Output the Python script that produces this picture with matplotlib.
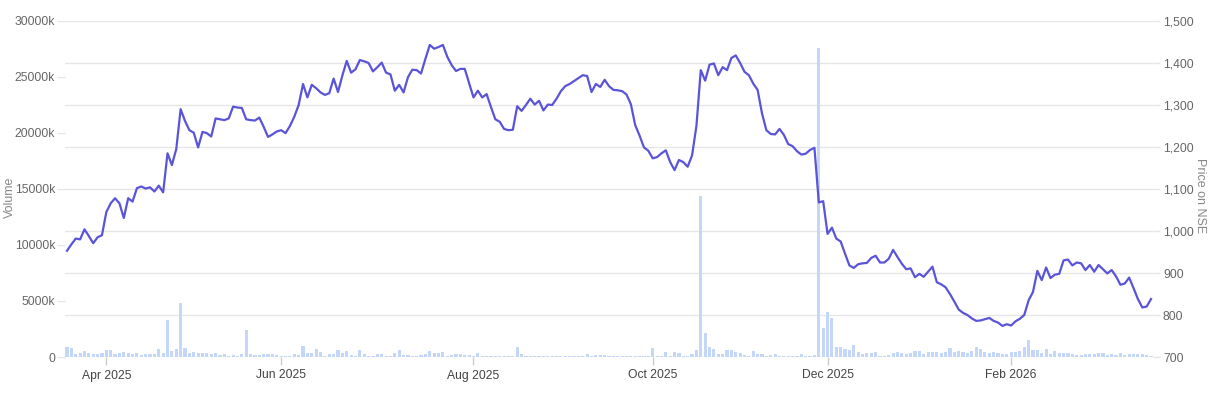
import numpy as np
import pandas as pd
import matplotlib
matplotlib.use("Agg")
import matplotlib.pyplot as plt
from matplotlib.ticker import FuncFormatter

# trading calendar (NSE), one bar / point per session
start_date = "2025-03-18"
n_days = 249
holidays = ["2025-03-31", "2025-04-10", "2025-04-14", "2025-04-18", "2025-05-01",
            "2025-08-15", "2025-08-27", "2025-10-02", "2025-10-22", "2025-11-05",
            "2025-12-25", "2026-01-15", "2026-01-26", "2026-03-03"]

# closing price on NSE
price = [
    953, 968, 982, 980, 1004, 988, 971, 985, 990, 1045,
    1066, 1078, 1066, 1031, 1078, 1070, 1102, 1106, 1101, 1104,
    1094, 1108, 1092, 1185, 1157, 1195, 1290, 1262, 1240, 1234,
    1199, 1236, 1233, 1225, 1268, 1266, 1264, 1268, 1296, 1294,
    1293, 1266, 1264, 1263, 1270, 1248, 1224, 1230, 1237, 1240,
    1233, 1250, 1272, 1300, 1350, 1318, 1348, 1340, 1330, 1324,
    1328, 1363, 1331, 1370, 1405, 1377, 1385, 1407, 1404, 1400,
    1380, 1390, 1401, 1377, 1373, 1334, 1348, 1330, 1366, 1384,
    1383, 1375, 1410, 1443, 1434, 1438, 1443, 1415, 1395, 1381,
    1386, 1386, 1352, 1318, 1334, 1318, 1326, 1295, 1266, 1260,
    1243, 1240, 1241, 1297, 1286, 1300, 1315, 1301, 1310, 1287,
    1301, 1300, 1315, 1333, 1345, 1350, 1357, 1364, 1371, 1369,
    1331, 1350, 1343, 1360, 1345, 1336, 1335, 1333, 1325, 1302,
    1252, 1227, 1199, 1191, 1173, 1176, 1185, 1192, 1164, 1145,
    1169, 1164, 1153, 1180, 1250, 1383, 1358, 1396, 1399, 1371,
    1390, 1383, 1412, 1418, 1400, 1379, 1371, 1351, 1336, 1280,
    1240, 1231, 1230, 1243, 1229, 1207, 1202, 1190, 1182, 1184,
    1193, 1198, 1068, 1071, 993, 1008, 982, 975, 946, 918,
    912, 921, 923, 924, 936, 941, 925, 925, 934, 955,
    938, 922, 909, 911, 890, 898, 891, 903, 915, 878,
    873, 866, 850, 832, 813, 805, 800, 792, 786, 787,
    790, 793, 786, 782, 774, 778, 775, 785, 791, 800,
    835, 855, 905, 883, 913, 888, 896, 898, 930, 932,
    918, 925, 923, 907, 919, 903, 919, 909, 899, 907,
    892, 872, 875, 889, 864, 838, 818, 820, 838,
]

# traded volume, thousands of shares
volume_k = [
    860, 775, 270, 330, 500, 330, 270, 270, 390, 620,
    620, 270, 390, 470, 330, 240, 330, 180, 300, 240,
    240, 680, 330, 3300, 560, 740, 4780, 830, 330, 420,
    390, 360, 330, 270, 330, 180, 240, 120, 180, 120,
    240, 2410, 300, 210, 150, 270, 240, 240, 150, 60,
    60, 90, 240, 150, 1000, 330, 330, 680, 420, 120,
    270, 270, 620, 330, 500, 150, 120, 620, 270, 120,
    90, 270, 240, 60, 60, 330, 620, 150, 150, 120,
    90, 150, 270, 560, 330, 390, 470, 90, 180, 240,
    240, 150, 150, 60, 330, 60, 60, 60, 90, 60,
    60, 60, 120, 890, 240, 90, 90, 60, 60, 120,
    60, 60, 60, 120, 90, 120, 90, 60, 60, 240,
    90, 210, 210, 150, 120, 90, 90, 120, 60, 120,
    90, 60, 60, 60, 770, 120, 60, 420, 120, 420,
    330, 90, 120, 240, 620, 14380, 2120, 860, 720, 270,
    270, 590, 590, 470, 390, 180, 120, 500, 270, 270,
    120, 150, 270, 120, 120, 60, 120, 60, 240, 120,
    90, 180, 27600, 2620, 4020, 3450, 860, 860, 680, 620,
    1100, 420, 240, 360, 390, 450, 120, 120, 180, 330,
    420, 330, 240, 330, 560, 530, 270, 470, 470, 450,
    390, 450, 770, 470, 530, 450, 360, 530, 890, 680,
    420, 330, 470, 390, 240, 270, 470, 470, 530, 860,
    1520, 620, 620, 330, 740, 240, 530, 330, 390, 330,
    240, 180, 180, 240, 240, 270, 390, 330, 150, 240,
    180, 390, 180, 270, 300, 300, 240, 180, 120,
]

vol_ticks = [0, 5000, 10000, 15000, 20000, 25000, 30000]
price_ticks = [700, 800, 900, 1000, 1100, 1200, 1300, 1400, 1500]
month_ticks = ["2025-04", "2025-06", "2025-08", "2025-10", "2025-12", "2026-02"]

days = pd.bdate_range(start_date, periods=n_days + 40)
days = days[~days.isin(pd.to_datetime(holidays))][:n_days]
idx = np.arange(n_days)

# first session of each labelled month
tick_pos, tick_lab = [], []
for m in month_ticks:
    first = np.where(days.strftime("%Y-%m") == m)[0][0]
    tick_pos.append(first)
    tick_lab.append(days[first].strftime("%b %Y"))

plt.rcParams["font.family"] = ["Liberation Sans", "DejaVu Sans"]

fig = plt.figure(figsize=(12.12, 3.93), dpi=100)
W, H = 1212, 393
left, right, top, bottom = 64.8, 1153.2, 21, 357
rect = [left / W, 1 - bottom / H, (right - left) / W, (bottom - top) / H]

grid_c = "#e6e6e6"
text_c = "#666666"

# base axes: grid + price scale (right), x ticks
ax = fig.add_axes(rect)
axv = ax.twinx()   # volume bars, left scale
axl = ax.twinx()   # price line, drawn on top

ax.set_xlim(-0.5, n_days - 0.5)
ax.set_ylim(700, 1500)
ax.set_yticks(price_ticks)
ax.yaxis.set_major_formatter(FuncFormatter(lambda v, p: f"{int(v):,}"))
ax.grid(axis="y", color=grid_c, linewidth=1)
ax.set_xticks(tick_pos)
ax.set_xticklabels(tick_lab)
ax.tick_params(axis="x", length=6, width=1, color="#cccccc", pad=3,
               labelsize=8.7, labelcolor="#444444")

axv.bar(idx, volume_k, width=0.72, color="#c4d7f8", linewidth=0)
axv.set_xlim(-0.5, n_days - 0.5)
axv.set_ylim(0, 30000)
axv.set_yticks(vol_ticks)
axv.yaxis.set_major_formatter(FuncFormatter(lambda v, p: "0" if v == 0 else f"{int(v)}k"))

axl.plot(idx, price, color="#5a54d8", linewidth=1.6, solid_joinstyle="round")
axl.set_xlim(-0.5, n_days - 0.5)
axl.set_ylim(700, 1500)
axl.set_yticks([])

# twinx moves the base ticks to the left, so set sides afterwards
ax.yaxis.tick_right()
ax.yaxis.set_label_position("right")
ax.tick_params(axis="y", length=5, width=1, color=grid_c, pad=2,
               labelsize=8.7, labelcolor=text_c)
ax.set_ylabel("Price on NSE", rotation=-90, color="#888888", fontsize=9,
              va="center", ha="center")
ax.yaxis.set_label_coords(1.0426, 0.48)

axv.yaxis.tick_left()
axv.yaxis.set_label_position("left")
axv.tick_params(axis="y", length=6, width=1, color=grid_c, pad=1,
                labelsize=8.7, labelcolor=text_c)
axv.set_ylabel("Volume", color="#888888", fontsize=9, va="center", ha="center")
axv.yaxis.set_label_coords(-0.0503, 0.475)

for a in (ax, axv, axl):
    for s in a.spines.values():
        s.set_visible(False)

fig.savefig("out.png", dpi=100)
